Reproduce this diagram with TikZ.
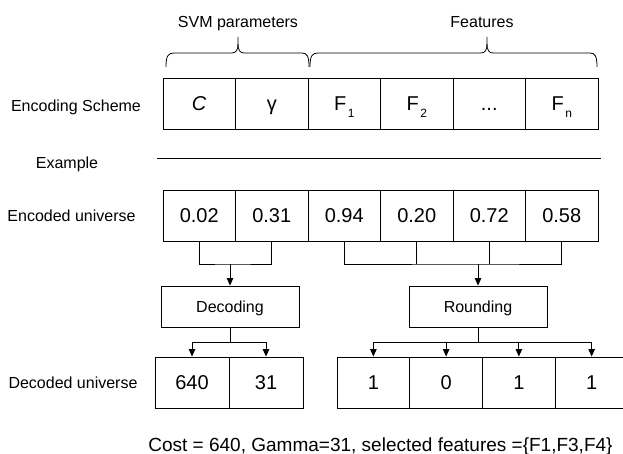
\documentclass[tikz,border=0pt]{standalone}
\usepackage{fontspec}
\setmainfont{Liberation Sans}
\usetikzlibrary{arrows.meta}
\begin{document}
\begin{tikzpicture}[x=1pt,y=-1pt,
  cell/.style={draw, line width=0.9pt, minimum width=72.5pt, minimum height=51pt, inner sep=0pt,
    font=\fontsize{20}{20}\selectfont, text height=14.3pt, text depth=0pt},
  dcell/.style={cell, minimum width=74pt},
  rcell/.style={cell, minimum width=72.75pt},
  lbl/.style={inner sep=0pt, font=\fontsize{16}{16}\selectfont, text height=11.5pt, text depth=0pt},
  proc/.style={draw, line width=0.9pt, minimum width=138pt, minimum height=41pt, inner sep=0pt,
    font=\fontsize{16}{16}\selectfont, text height=11.5pt, text depth=0pt},
  conn/.style={line width=0.9pt},
  arr/.style={conn, -{Triangle[length=7.5pt,width=6.5pt]}},
  bracestyle/.style={line width=0.8pt}]
\newcommand{\Fsub}[1]{F\kern1.5pt\raisebox{-6.5pt}{\fontsize{12}{12}\selectfont #1}}
\useasboundingbox (0,0) rectangle (623,454);

% top labels and braces
\node[lbl] (svm) at (238,22) {SVM parameters};
\node[lbl] (feat) at (482,22) {Features};
\draw[bracestyle] (166,67) .. controls (166,56) and (168,53) .. (174,53) -- (232,53)
  .. controls (236,53) and (238,50) .. (238,44) -- (238,37);
\draw[bracestyle] (238,44) .. controls (238,50) and (240,53) .. (244,53) -- (302,53)
  .. controls (307,53) and (309,56) .. (309,67);
\draw[bracestyle] (310,67) .. controls (310,56) and (312,53) .. (318,53) -- (481,53)
  .. controls (485,53) and (487,50) .. (487,44) -- (487,37);
\draw[bracestyle] (487,44) .. controls (487,50) and (489,53) .. (493,53) -- (590,53)
  .. controls (595,53) and (597,56) .. (597,67);

% left labels
\node[lbl] (lenc) at (76,106) {Encoding Scheme};
\node[lbl] (lex) at (67,163) {Example};
\node[lbl] (leu) at (71.5,215.5) {Encoded universe};
\node[lbl] (ldu) at (73,383) {Decoded universe};

% encoding scheme row
\node[cell] (s1) at (199.25,103.5) {\textit{C}};
\node[cell] (s2) at (271.75,103.5) {γ};
\node[cell] (s3) at (344.25,103.5) {\Fsub{1}};
\node[cell] (s4) at (416.75,103.5) {\Fsub{2}};
\node[cell] (s5) at (489.25,103.5) {...};
\node[cell] (s6) at (561.75,103.5) {\Fsub{n}};

% separator
\coordinate (exl) at (157,158);
\coordinate (exr) at (601,158);
\draw[conn] (exl) -- (exr);

% encoded universe row
\node[cell] (e1) at (199.25,215.5) {0.02};
\node[cell] (e2) at (271.75,215.5) {0.31};
\node[cell] (e3) at (344.25,215.5) {0.94};
\node[cell] (e4) at (416.75,215.5) {0.20};
\node[cell] (e5) at (489.25,215.5) {0.72};
\node[cell] (e6) at (561.75,215.5) {0.58};

% process boxes
\node[proc] (dec) at (230,306.5) {Decoding};
\node[proc] (rnd) at (478,306.5) {Rounding};

% decoded universe row
\node[dcell] (d1) at (192,382.5) {640};
\node[dcell] (d2) at (266,382.5) {31};
\node[rcell] (r1) at (373.375,382.5) {1};
\node[rcell] (r2) at (446.125,382.5) {0};
\node[rcell] (r3) at (518.875,382.5) {1};
\node[rcell] (r4) at (591.625,382.5) {1};

% connectors top
\coordinate (lj) at (230,264);
\coordinate (rj) at (478,264);
\draw[conn] (e1.south) |- (lj) -| (e2.south);
\draw[arr] (lj) -- (dec.north);
\draw[conn] (e3.south) |- (rj) -| (e6.south);
\draw[conn] (e4.south) -- (e4.south |- rj);
\draw[conn] (e5.south) -- (e5.south |- rj);
\draw[arr] (rj) -- (rnd.north);

% connectors bottom
\coordinate (dj) at (230,342);
\coordinate (rk) at (478,342);
\draw[conn] (dec.south) -- (dj);
\draw[arr] (dj) -| (d1.north);
\draw[arr] (dj) -| (d2.north);
\draw[conn] (rnd.south) -- (rk);
\draw[arr] (rk) -| (r1.north);
\draw[arr] (rk) -| (r2.north);
\draw[arr] (rk) -| (r3.north);
\draw[arr] (rk) -| (r4.north);

% result
\node[anchor=base, inner sep=0pt, font=\fontsize{19}{19}\selectfont] (cost) at (380.5,451)
  {Cost = 640, Gamma=31, selected features =\{F1,F3,F4\}};
\end{tikzpicture}
\end{document}
